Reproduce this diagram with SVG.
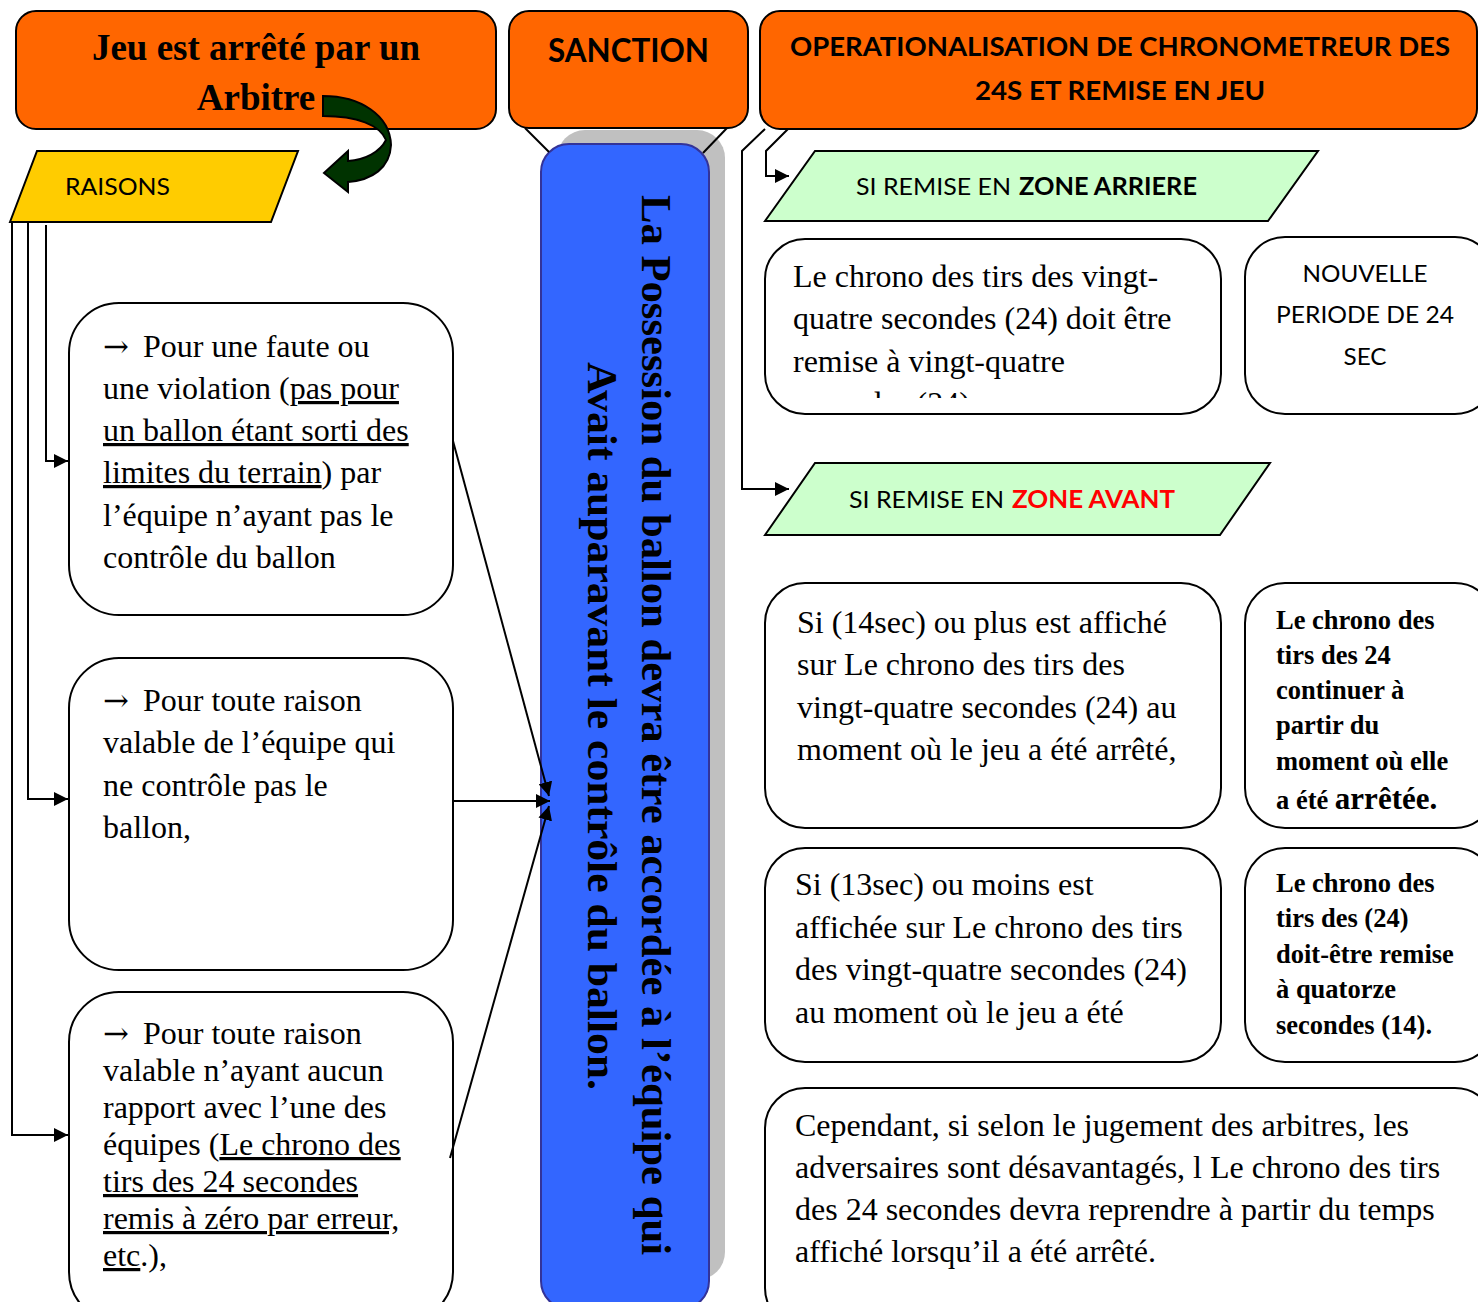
<svg xmlns="http://www.w3.org/2000/svg" width="1478" height="1302" viewBox="0 0 1478 1302">
<defs>
<style>
.hdr{fill:#FF6600;stroke:#000;stroke-width:2}
.box{fill:#fff;stroke:#000;stroke-width:2}
.para{stroke:#000;stroke-width:2}
.ser{font-family:"Liberation Serif","Times New Roman",serif;fill:#000}
.sb{font-family:"Liberation Serif","Times New Roman",serif;font-weight:bold;fill:#000}
.sans{font-family:Lato,"Open Sans","Liberation Sans",sans-serif;fill:#000}
.t32{font-size:32px}
.t26{font-size:26.5px}
.u{text-decoration:underline}
.arr{font-family:"DejaVu Serif",serif;font-size:31px}
.con{fill:none;stroke:#000;stroke-width:2}
</style>
<marker id="ah" viewBox="0 0 10 10" refX="10" refY="5" markerWidth="7" markerHeight="7" markerUnits="strokeWidth" orient="auto">
<path d="M0,0 L10,5 L0,10 Z" fill="#000"/>
</marker>
<clipPath id="clipA"><rect x="765" y="239" width="456" height="159"/></clipPath>
</defs>
<rect width="1478" height="1302" fill="#fff"/>

<g id="header-jeu">
<rect class="hdr" x="16" y="11" width="480" height="118" rx="20"/>
<text class="sb" font-size="37" x="256" y="60" text-anchor="middle">Jeu est arrêté par un</text>
<text class="sb" font-size="37" x="256" y="110" text-anchor="middle">Arbitre</text>
</g>

<g id="curved-arrow">
<path d="M323,96 C360,96 390,115 391,145 C390,168 372,180 348,182 L348,192 L324,173 L348,151 L348,161 C365,160 380,152 386,140 C380,125 357,116 323,116 Z" fill="#003300" stroke="#000" stroke-width="2"/>
</g>

<g id="header-sanction">
<rect class="hdr" x="509" y="11" width="239" height="117" rx="20"/>
<text class="sans" font-weight="bold" font-size="33" x="548" y="62" textLength="161" lengthAdjust="spacingAndGlyphs">SANCTION</text>
</g>

<g id="header-operationalisation">
<rect class="hdr" x="760" y="11" width="717" height="118" rx="20"/>
<text class="sans" font-weight="bold" font-size="26" x="790" y="56" textLength="660" lengthAdjust="spacingAndGlyphs">OPERATIONALISATION DE CHRONOMETREUR DES</text>
<text class="sans" font-weight="bold" font-size="26" x="975" y="100" textLength="290" lengthAdjust="spacingAndGlyphs">24S ET REMISE EN JEU</text>
</g>

<g id="raisons">
<polygon class="para" fill="#FFCC00" points="10,222 37,151 298,151 271,222"/>
<text class="sans" font-size="24" x="65" y="195" textLength="105" lengthAdjust="spacingAndGlyphs">RAISONS</text>
</g>

<g id="sanction-bar">
<rect x="557" y="130" width="168" height="1150" rx="28" fill="#C0C0C0"/>
<rect x="541" y="144" width="168" height="1165" rx="28" fill="#3366FF" stroke="#333399" stroke-width="2"/>
<g transform="rotate(90)">
<text class="sb" font-size="43" x="725" y="-642" text-anchor="middle" textLength="1060" lengthAdjust="spacingAndGlyphs">La Possession du ballon devra être accordée à l’équipe qui</text>
<text class="sb" font-size="43" x="726" y="-588" text-anchor="middle" textLength="728" lengthAdjust="spacingAndGlyphs">Avait auparavant le contrôle du ballon.</text>
</g>
</g>

<g id="reason-1">
<rect class="box" x="69" y="303" width="384" height="312" rx="50"/>
<text class="ser t32" x="103" y="357"><tspan class="arr">→</tspan><tspan dx="6"> Pour une faute ou</tspan></text>
<text class="ser t32" x="103" y="399">une violation (<tspan class="u">pas pour</tspan></text>
<text class="ser t32 u" x="103" y="441">un ballon étant sorti des</text>
<text class="ser t32" x="103" y="483"><tspan class="u">limites du terrain</tspan>) par</text>
<text class="ser t32" x="103" y="526">l’équipe n’ayant pas le</text>
<text class="ser t32" x="103" y="568">contrôle du ballon</text>
</g>

<g id="reason-2">
<rect class="box" x="69" y="658" width="384" height="312" rx="50"/>
<text class="ser t32" x="103" y="711"><tspan class="arr">→</tspan><tspan dx="6"> Pour toute raison</tspan></text>
<text class="ser t32" x="103" y="753">valable de l’équipe qui</text>
<text class="ser t32" x="103" y="796">ne contrôle pas le</text>
<text class="ser t32" x="103" y="838">ballon,</text>
</g>

<g id="reason-3">
<rect class="box" x="69" y="992" width="384" height="330" rx="50"/>
<text class="ser t32" x="103" y="1044"><tspan class="arr">→</tspan><tspan dx="6"> Pour toute raison</tspan></text>
<text class="ser t32" x="103" y="1081">valable n’ayant aucun</text>
<text class="ser t32" x="103" y="1118">rapport avec l’une des</text>
<text class="ser t32" x="103" y="1155">équipes (<tspan class="u">Le chrono des</tspan></text>
<text class="ser t32 u" x="103" y="1192">tirs des 24 secondes</text>
<text class="ser t32 u" x="103" y="1229">remis à zéro par erreur,</text>
<text class="ser t32" x="103" y="1266"><tspan class="u">etc</tspan>.),</text>
</g>

<g id="zone-arriere">
<polygon class="para" fill="#CCFFCC" points="765,221 815,151 1318,151 1268,221"/>
<text class="sans" font-size="24" x="856" y="195" textLength="155" lengthAdjust="spacingAndGlyphs">SI REMISE EN</text>
<text class="sans" font-size="24" font-weight="bold" x="1019" y="195" textLength="178" lengthAdjust="spacingAndGlyphs">ZONE ARRIERE</text>
</g>

<g id="arriere-text">
<rect class="box" x="765" y="239" width="456" height="175" rx="40"/>
<g clip-path="url(#clipA)">
<text class="ser t32" x="793" y="287">Le chrono des tirs des vingt-</text>
<text class="ser t32" x="793" y="329">quatre secondes (24) doit être</text>
<text class="ser t32" x="793" y="372">remise à vingt-quatre</text>
<text class="ser t32" x="793" y="414">secondes (24).</text>
</g>
</g>

<g id="nouvelle-periode">
<rect class="box" x="1245" y="237" width="250" height="177" rx="40"/>
<text class="sans" font-size="23" x="1365" y="282" text-anchor="middle" textLength="125" lengthAdjust="spacingAndGlyphs">NOUVELLE</text>
<text class="sans" font-size="23" x="1365" y="323" text-anchor="middle" textLength="178" lengthAdjust="spacingAndGlyphs">PERIODE DE 24</text>
<text class="sans" font-size="23" x="1365" y="365" text-anchor="middle" textLength="43" lengthAdjust="spacingAndGlyphs">SEC</text>
</g>

<g id="zone-avant">
<polygon class="para" fill="#CCFFCC" points="765,535 815,463 1270,463 1220,535"/>
<text class="sans" font-size="24" x="849" y="508" textLength="155" lengthAdjust="spacingAndGlyphs">SI REMISE EN</text>
<text class="sans" font-size="24" font-weight="bold" x="1012" y="508" style="fill:#FF0000" textLength="163" lengthAdjust="spacingAndGlyphs">ZONE AVANT</text>
</g>

<g id="avant-14">
<rect class="box" x="765" y="583" width="456" height="245" rx="40"/>
<text class="ser t32" x="797" y="633">Si (14sec) ou plus est affiché</text>
<text class="ser t32" x="797" y="675">sur Le chrono des tirs des</text>
<text class="ser t32" x="797" y="718">vingt-quatre secondes (24) au</text>
<text class="ser t32" x="797" y="760">moment où le jeu a été arrêté,</text>
</g>

<g id="avant-14-result">
<rect class="box" x="1245" y="583" width="250" height="245" rx="40"/>
<text class="sb t26" x="1276" y="629">Le chrono des</text>
<text class="sb t26" x="1276" y="664">tirs des 24</text>
<text class="sb t26" x="1276" y="699">continuer à</text>
<text class="sb t26" x="1276" y="734">partir du</text>
<text class="sb t26" x="1276" y="770">moment où elle</text>
<text class="sb t26" x="1276" y="809">a été <tspan font-size="31">arrêtée.</tspan></text>
</g>

<g id="avant-13">
<rect class="box" x="765" y="848" width="456" height="214" rx="40"/>
<text class="ser t32" x="795" y="895">Si (13sec) ou moins est</text>
<text class="ser t32" x="795" y="938">affichée sur Le chrono des tirs</text>
<text class="ser t32" x="795" y="980">des vingt-quatre secondes (24)</text>
<text class="ser t32" x="795" y="1023">au moment où le jeu a été</text>
</g>

<g id="avant-13-result">
<rect class="box" x="1245" y="848" width="250" height="214" rx="40"/>
<text class="sb t26" x="1276" y="892">Le chrono des</text>
<text class="sb t26" x="1276" y="927">tirs des (24)</text>
<text class="sb t26" x="1276" y="963">doit-être remise</text>
<text class="sb t26" x="1276" y="998">à quatorze</text>
<text class="sb t26" x="1276" y="1034">secondes (14).</text>
</g>

<g id="cependant">
<rect class="box" x="765" y="1088" width="730" height="240" rx="40"/>
<text class="ser t32" x="795" y="1136">Cependant, si selon le jugement des arbitres, les</text>
<text class="ser t32" x="795" y="1178">adversaires sont désavantagés, l Le chrono des tirs</text>
<text class="ser t32" x="795" y="1220">des 24 secondes devra reprendre à partir du temps</text>
<text class="ser t32" x="795" y="1262">affiché lorsqu’il a été arrêté.</text>
</g>

<g id="connectors">
<line class="con" x1="525" y1="128" x2="549" y2="152"/>
<line class="con" x1="727" y1="128" x2="703" y2="153"/>
<polyline class="con" points="46,225 46,461 68,461" marker-end="url(#ah)"/>
<polyline class="con" points="28,223 28,799 68,799" marker-end="url(#ah)"/>
<polyline class="con" points="12,223 12,1135 68,1135" marker-end="url(#ah)"/>
<line class="con" x1="453" y1="441" x2="549" y2="796" marker-end="url(#ah)"/>
<line class="con" x1="453" y1="801" x2="550" y2="801" marker-end="url(#ah)"/>
<line class="con" x1="450" y1="1158" x2="549" y2="806" marker-end="url(#ah)"/>
<polyline class="con" points="765,129 742,151 742,489 789,489" marker-end="url(#ah)"/>
<polyline class="con" points="788,129 766,151 766,176 789,176" marker-end="url(#ah)"/>
</g>
</svg>
